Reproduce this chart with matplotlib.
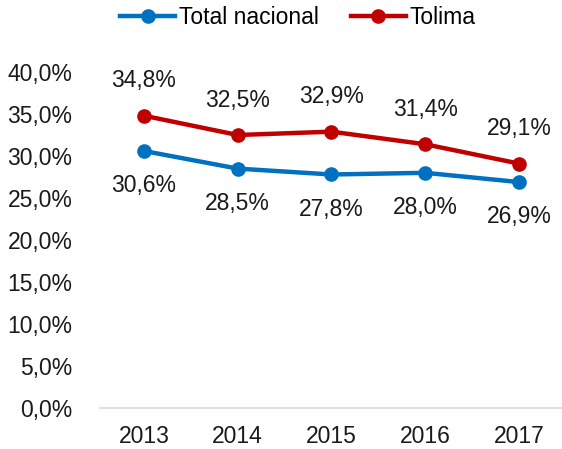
import matplotlib
matplotlib.use("Agg")
import matplotlib.pyplot as plt
from matplotlib.ticker import FuncFormatter

years = ["2013", "2014", "2015", "2016", "2017"]
nacional = [30.6, 28.5, 27.8, 28.0, 26.9]
tolima = [34.8, 32.5, 32.9, 31.4, 29.1]
series_names = ["Total nacional", "Tolima"]

plt.rcParams['font.family'] = ['Liberation Sans', 'DejaVu Sans']

fig = plt.figure(figsize=(5.62, 4.49), dpi=100)
ax = fig.add_axes([0.178, 0.0913, 0.822, 0.7483])

x = list(range(len(years)))
blue = "#0070C0"
red = "#C00000"
ln1, = ax.plot(x, nacional, color=blue, lw=3.2, marker="o", ms=9.5, label=series_names[0])
ln2, = ax.plot(x, tolima, color=red, lw=3.2, marker="o", ms=9.5, label=series_names[1])

def fmt(v):
    return f"{v:.1f}".replace(".", ",") + "%"

fs = 16.5
tc = "#1a1a1a"
for xi, v in zip(x, nacional):
    ax.annotate(fmt(v), (xi, v), xytext=(0, -25), textcoords="offset points",
                ha="center", va="center", fontsize=fs, color=tc)
for xi, v in zip(x, tolima):
    ax.annotate(fmt(v), (xi, v), xytext=(0, 25), textcoords="offset points",
                ha="center", va="center", fontsize=fs, color=tc)

ax.set_ylim(0, 40)
ax.set_yticks([0, 5, 10, 15, 20, 25, 30, 35, 40])
ax.yaxis.set_major_formatter(FuncFormatter(lambda v, p: fmt(v)))
ax.set_xlim(-0.469, 4.459)
ax.set_xticks(x)
ax.set_xticklabels(years)
ax.tick_params(axis="both", length=0, labelsize=fs, colors=tc)
ax.tick_params(axis="x", pad=12)
ax.tick_params(axis="y", pad=20)
for s in ["top", "right", "left"]:
    ax.spines[s].set_visible(False)
ax.spines["bottom"].set_color("#d9d9d9")
ax.spines["bottom"].set_linewidth(1.2)

fig.legend(handles=[ln1, ln2], loc="center", bbox_to_anchor=(0.53, 0.962), ncol=2,
           frameon=False, fontsize=fs, handlelength=2.4, columnspacing=1.4,
           handletextpad=0.15)

fig.savefig("out.png", dpi=100)
